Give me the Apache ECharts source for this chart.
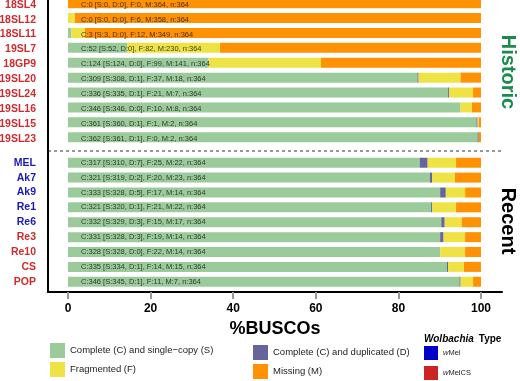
<!DOCTYPE html>
<html>
<head>
<meta charset="utf-8">
<script src="https://cdn.jsdelivr.net/npm/echarts@6/dist/echarts.min.js"></script>
<style>html,body{margin:0;padding:0;background:#fff}#c{width:520px;height:381px}</style>
</head>
<body>
<div id="c"></div>
<script>
const TOTAL = 364;
const historicSamples = ['18SL4','18SL12','18SL11','19SL7','18GP9','19SL20','19SL24','19SL16','19SL15','19SL23'];
const historicType = ['wMelCS','wMelCS','wMelCS','wMelCS','wMelCS','wMelCS','wMelCS','wMelCS','wMelCS','wMelCS'];
const historicS = [0,0,3,52,124,308,335,346,360,361];
const historicD = [0,0,0,0,0,1,1,0,1,1];
const historicF = [0,6,12,82,99,37,21,10,1,0];
const historicM = [364,358,349,230,141,18,7,8,2,2];

const recentSamples = ['MEL','Ak7','Ak9','Re1','Re6','Re3','Re10','CS','POP'];
const recentType = ['wMel','wMel','wMel','wMel','wMel','wMelCS','wMelCS','wMelCS','wMelCS'];
const recentS = [310,319,328,320,329,328,328,334,345];
const recentD = [7,2,5,1,3,3,0,1,1];
const recentF = [25,20,17,21,15,19,22,14,11];
const recentM = [22,23,14,22,17,14,14,15,7];

const xTicks = [0,20,40,60,80,100];

const NAME_S = 'Complete (C) and single\u2212copy (S)';
const NAME_D = 'Complete (C) and duplicated (D)';
const NAME_F = 'Fragmented (F)';
const NAME_M = 'Missing (M)';
const COL = {S:'#9ccb9b', D:'#65659b', F:'#efe244', M:'#ff9204'};
const TYPE_COL = {wMel:'#1a1ab4', wMelCS:'#cf2b2e'};
const TYPE_BOX = {wMel:'#0000c8', wMelCS:'#cc2424'};
const FONT = '"Liberation Sans", Arial, Helvetica, sans-serif';

const chart = echarts.init(document.getElementById('c'), null, {renderer:'canvas'});

const series = [];
const yAxes = [];
const xAxes = [];
const grids = [
  {left:68, right:39, top:-2.7, height:148.9, outerBoundsMode:'none', containLabel:false},
  {left:68, right:39, top:155.3, height:133.9, outerBoundsMode:'none', containLabel:false},
  {left:48, right:18, top:0, height:292, outerBoundsMode:'none', containLabel:false}
];

function group(gi, names, types, S, D, F, M) {
  xAxes.push({gridIndex:gi, type:'value', min:0, max:100, show:false});
  yAxes.push({
    gridIndex:gi, type:'category', data:names, inverse:true,
    axisLine:{show:false}, axisTick:{show:false}, splitLine:{show:false},
    axisLabel:{
      margin:32, fontSize:10.5, fontWeight:'bold', fontFamily:FONT, hideOverlap:false,
      color:(v, i) => TYPE_COL[types[names.indexOf(v)]]
    }
  });
  const parts = [[NAME_S,S,COL.S],[NAME_D,D,COL.D],[NAME_F,F,COL.F],[NAME_M,M,COL.M]];
  parts.forEach(([nm, arr, c]) => {
    series.push({
      type:'bar', name:nm, xAxisIndex:gi, yAxisIndex:gi, stack:'g'+gi,
      barWidth:10, silent:true, itemStyle:{color:c},
      data: arr.map(v => v / TOTAL * 100)
    });
  });
  series.push({
    type:'scatter', xAxisIndex:gi, yAxisIndex:gi, symbolSize:0, silent:true, z:5,
    data: names.map((n, i) => [0, i]),
    label:{
      show:true, position:'right', distance:13, fontSize:7.5, color:'#111', fontFamily:FONT,
      formatter: p => {
        const i = p.dataIndex;
        return 'C:' + (S[i] + D[i]) + ' [S:' + S[i] + ', D:' + D[i] + '], F:' + F[i] + ', M:' + M[i] + ', n:' + TOTAL;
      }
    }
  });
}
group(0, historicSamples, historicType, historicS, historicD, historicF, historicM);
group(1, recentSamples, recentType, recentS, recentD, recentF, recentM);

// frame axes
xAxes.push({
  gridIndex:2, type:'value', min:-4.843, max:105.085,
  axisLine:{show:true, onZero:false, lineStyle:{color:'#000', width:2}},
  axisTick:{show:true, customValues:xTicks, length:7, lineStyle:{color:'#999', width:2}},
  axisLabel:{show:true, customValues:xTicks, fontSize:12, fontWeight:'bold', color:'#000', margin:11, fontFamily:FONT},
  splitLine:{show:false},
  name:'%BUSCOs', nameLocation:'middle', nameGap:24,
  nameTextStyle:{fontSize:18, fontWeight:'bold', color:'#000', fontFamily:FONT, verticalAlign:'top'}
});
yAxes.push({
  gridIndex:2, type:'value', min:0, max:1,
  axisLine:{show:true, onZero:false, lineStyle:{color:'#000', width:2}},
  axisTick:{show:false}, axisLabel:{show:false}, splitLine:{show:false}
});

// wolbachia type legend series
['wMel','wMelCS'].forEach(t => {
  series.push({type:'bar', name:t, xAxisIndex:0, yAxisIndex:0, data:[], itemStyle:{color:TYPE_BOX[t]}});
});

const legendBase = {
  orient:'vertical', icon:'rect', selectedMode:false, padding:0,
  textStyle:{fontSize:9.5, color:'#222', fontFamily:FONT}
};

chart.setOption({
  animation:false,
  backgroundColor:'#fff',
  grid:grids,
  xAxis:xAxes,
  yAxis:yAxes,
  series:series,
  title:{
    text:'{i|Wolbachia} {b|Type}', left:424, top:330, padding:0,
    textStyle:{rich:{
      i:{fontStyle:'italic', fontWeight:'bold', fontSize:10, color:'#000', fontFamily:FONT},
      b:{fontWeight:'bold', fontSize:10, color:'#000', fontFamily:FONT}
    }}
  },
  legend:[
    Object.assign({}, legendBase, {data:[NAME_S, NAME_F], left:50, top:343, itemWidth:15, itemHeight:15, itemGap:4}),
    Object.assign({}, legendBase, {data:[NAME_D, NAME_M], left:253, top:345, itemWidth:15, itemHeight:15, itemGap:4}),
    Object.assign({}, legendBase, {
      data:['wMel','wMelCS'], left:424, top:346, itemWidth:14, itemHeight:14, itemGap:6,
      formatter: n => '{i|w}{r|' + n.slice(1) + '}',
      textStyle:{rich:{
        i:{fontStyle:'italic', fontSize:7.5, color:'#222', fontFamily:FONT},
        r:{fontSize:7.5, color:'#222', fontFamily:FONT}
      }}
    })
  ],
  graphic:[
    {type:'line', shape:{x1:48, y1:151, x2:501, y2:151}, style:{stroke:'#333', lineWidth:1, lineDash:[3,3]}, silent:true},
    {type:'text', x:508, y:72, rotation:-Math.PI/2, silent:true,
     style:{text:'Historic', fill:'#1b8a4c', font:'bold 20px ' + FONT, align:'center', verticalAlign:'middle'}},
    {type:'text', x:508, y:221, rotation:-Math.PI/2, silent:true,
     style:{text:'Recent', fill:'#000', font:'bold 20px ' + FONT, align:'center', verticalAlign:'middle'}}
  ]
});
</script>
</body>
</html>
